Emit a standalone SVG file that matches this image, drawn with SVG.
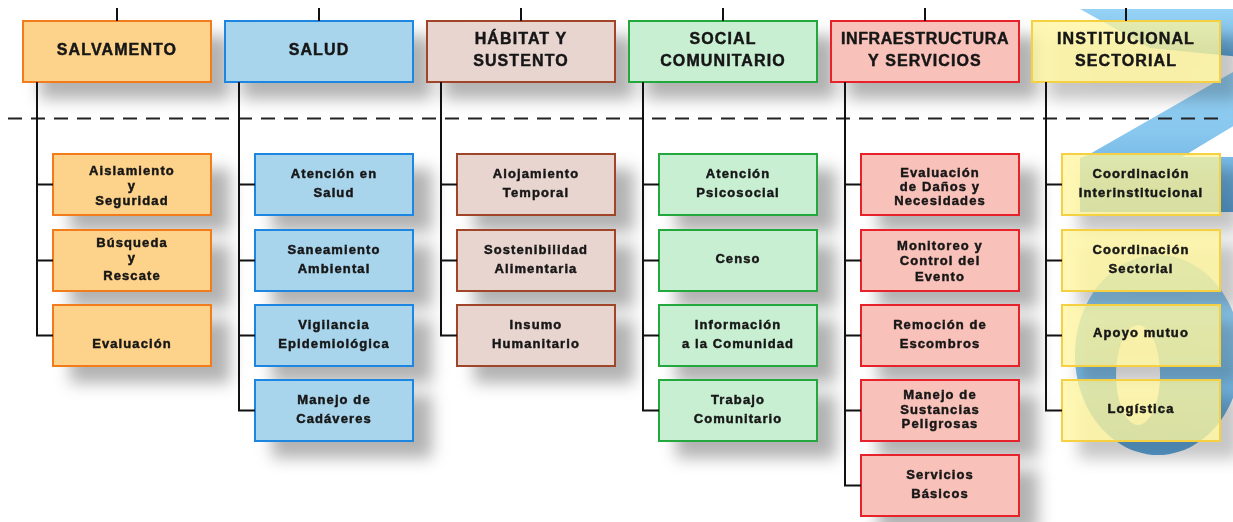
<svg xmlns="http://www.w3.org/2000/svg" width="1233" height="522" viewBox="0 0 1233 522">
<style>
text{font-family:"Liberation Sans",Arial,Helvetica,sans-serif;font-weight:bold;fill:#151515;stroke:#151515;stroke-width:0.45;text-anchor:middle}
.h{font-size:16px;letter-spacing:1.1px}
.c{font-size:13px;letter-spacing:1.1px}
.box{stroke-width:2}
.salv{fill:#FDD28A;stroke:#F27B1F}
.salu{fill:#A8D4EC;stroke:#1F86E0}
.habi{fill:#E9D5D0;stroke:#A0442A}
.soci{fill:#C9EFD3;stroke:#22A83C}
.infr{fill:#F8C1B9;stroke:#E8232B}
.inst{fill:#FFF59A;fill-opacity:0.74;stroke:#F5D040}
.ln{stroke:#111;stroke-width:2;fill:none}
.dash{stroke:#222;stroke-width:2;stroke-dasharray:14 9;fill:none}
</style>
<defs>
<filter id="sh" x="-20%" y="-40%" width="170%" height="220%">
<feDropShadow dx="18" dy="16" stdDeviation="8" flood-color="#000" flood-opacity="0.3"/>
</filter>
<linearGradient id="bg" x1="0" y1="0" x2="0" y2="1">
<stop offset="0" stop-color="#96D2F6"/>
<stop offset="0.45" stop-color="#88C7EE"/>
<stop offset="1" stop-color="#5CA5DB"/>
</linearGradient>
</defs>
<rect width="1233" height="522" fill="#fff"/>
<g id="background-logo" fill="url(#bg)">
<path d="M1080,9 L1240,9 L1240,57 L1150,48 Z"/>
<path d="M1240,68 L1240,122 L1182,157 L1240,157 L1240,212 L1080,212 L1080,158 L1088,155 Z"/>
<path fill-rule="evenodd" d="M1158,255 A83,100 0 1 1 1157.9,255 Z M1138,325 A22,50 0 1 0 1138.1,325 Z"/>
</g>
<g id="n-salvamento" filter="url(#sh)">
<rect class="box salv" x="23" y="21" width="188" height="61"/>
<text class="h" x="117" y="54.5">SALVAMENTO</text>
</g>
<g id="n-salud" filter="url(#sh)">
<rect class="box salu" x="225" y="21" width="188" height="61"/>
<text class="h" x="319" y="54.5">SALUD</text>
</g>
<g id="n-habitat" filter="url(#sh)">
<rect class="box habi" x="427" y="21" width="188" height="61"/>
<text class="h" x="521" y="43.5">HÁBITAT Y</text>
<text class="h" x="521" y="65.5">SUSTENTO</text>
</g>
<g id="n-social" filter="url(#sh)">
<rect class="box soci" x="629" y="21" width="188" height="61"/>
<text class="h" x="723" y="43.5">SOCIAL</text>
<text class="h" x="723" y="65.5">COMUNITARIO</text>
</g>
<g id="n-infra" filter="url(#sh)">
<rect class="box infr" x="831" y="21" width="188" height="61"/>
<text class="h" x="925" y="43.5" style="letter-spacing:0.6px">INFRAESTRUCTURA</text>
<text class="h" x="925" y="65.5">Y SERVICIOS</text>
</g>
<g id="n-institucional" filter="url(#sh)">
<rect class="box inst" x="1032" y="21" width="188" height="61"/>
<text class="h" x="1126" y="43.5">INSTITUCIONAL</text>
<text class="h" x="1126" y="65.5">SECTORIAL</text>
</g>

<g id="n-aislamiento" filter="url(#sh)">
<rect class="box salv" x="53" y="154" width="158" height="61"/>
<text class="c" x="132" y="175">Aislamiento</text>
<text class="c" x="132" y="190">y</text>
<text class="c" x="132" y="204.5">Seguridad</text>
</g>
<g id="n-busqueda" filter="url(#sh)">
<rect class="box salv" x="53" y="230" width="158" height="61"/>
<text class="c" x="132" y="246.5">Búsqueda</text>
<text class="c" x="132" y="262">y</text>
<text class="c" x="132" y="279.5">Rescate</text>
</g>
<g id="n-evaluacion" filter="url(#sh)">
<rect class="box salv" x="53" y="305" width="158" height="61"/>
<text class="c" x="132" y="347.5">Evaluación</text>
</g>

<g id="n-atencion-salud" filter="url(#sh)">
<rect class="box salu" x="255" y="154" width="158" height="61"/>
<text class="c" x="334" y="178">Atención en</text>
<text class="c" x="334" y="196.5">Salud</text>
</g>
<g id="n-saneamiento" filter="url(#sh)">
<rect class="box salu" x="255" y="230" width="158" height="61"/>
<text class="c" x="334" y="254">Saneamiento</text>
<text class="c" x="334" y="272.5">Ambiental</text>
</g>
<g id="n-vigilancia" filter="url(#sh)">
<rect class="box salu" x="255" y="305" width="158" height="61"/>
<text class="c" x="334" y="329">Vigilancia</text>
<text class="c" x="334" y="347.5">Epidemiológica</text>
</g>
<g id="n-cadaveres" filter="url(#sh)">
<rect class="box salu" x="255" y="380" width="158" height="61"/>
<text class="c" x="334" y="404">Manejo de</text>
<text class="c" x="334" y="422.5">Cadáveres</text>
</g>

<g id="n-alojamiento" filter="url(#sh)">
<rect class="box habi" x="457" y="154" width="158" height="61"/>
<text class="c" x="536" y="178">Alojamiento</text>
<text class="c" x="536" y="196.5">Temporal</text>
</g>
<g id="n-sostenibilidad" filter="url(#sh)">
<rect class="box habi" x="457" y="230" width="158" height="61"/>
<text class="c" x="536" y="254">Sostenibilidad</text>
<text class="c" x="536" y="272.5">Alimentaria</text>
</g>
<g id="n-insumo" filter="url(#sh)">
<rect class="box habi" x="457" y="305" width="158" height="61"/>
<text class="c" x="536" y="329">Insumo</text>
<text class="c" x="536" y="347.5">Humanitario</text>
</g>

<g id="n-psicosocial" filter="url(#sh)">
<rect class="box soci" x="659" y="154" width="158" height="61"/>
<text class="c" x="738" y="178">Atención</text>
<text class="c" x="738" y="196.5">Psicosocial</text>
</g>
<g id="n-censo" filter="url(#sh)">
<rect class="box soci" x="659" y="230" width="158" height="61"/>
<text class="c" x="738" y="262.5">Censo</text>
</g>
<g id="n-informacion" filter="url(#sh)">
<rect class="box soci" x="659" y="305" width="158" height="61"/>
<text class="c" x="738" y="329">Información</text>
<text class="c" x="738" y="347.5">a la Comunidad</text>
</g>
<g id="n-trabajo" filter="url(#sh)">
<rect class="box soci" x="659" y="380" width="158" height="61"/>
<text class="c" x="738" y="404">Trabajo</text>
<text class="c" x="738" y="422.5">Comunitario</text>
</g>

<g id="n-edan" filter="url(#sh)">
<rect class="box infr" x="861" y="154" width="158" height="61"/>
<text class="c" x="940" y="176.5">Evaluación</text>
<text class="c" x="940" y="190.5">de Daños y</text>
<text class="c" x="940" y="205">Necesidades</text>
</g>
<g id="n-monitoreo" filter="url(#sh)">
<rect class="box infr" x="861" y="230" width="158" height="61"/>
<text class="c" x="940" y="249.5">Monitoreo y</text>
<text class="c" x="940" y="265">Control del</text>
<text class="c" x="940" y="281">Evento</text>
</g>
<g id="n-remocion" filter="url(#sh)">
<rect class="box infr" x="861" y="305" width="158" height="61"/>
<text class="c" x="940" y="329">Remoción de</text>
<text class="c" x="940" y="347.5">Escombros</text>
</g>
<g id="n-sustancias" filter="url(#sh)">
<rect class="box infr" x="861" y="380" width="158" height="61"/>
<text class="c" x="940" y="398.5">Manejo de</text>
<text class="c" x="940" y="413.5">Sustancias</text>
<text class="c" x="940" y="427.5">Peligrosas</text>
</g>
<g id="n-servicios" filter="url(#sh)">
<rect class="box infr" x="861" y="455" width="158" height="61"/>
<text class="c" x="940" y="479">Servicios</text>
<text class="c" x="940" y="497.5">Básicos</text>
</g>

<g id="n-coord-inter" filter="url(#sh)">
<rect class="box inst" x="1062" y="154" width="158" height="61"/>
<text class="c" x="1141" y="178">Coordinación</text>
<text class="c" x="1141" y="196.5">Interinstitucional</text>
</g>
<g id="n-coord-sect" filter="url(#sh)">
<rect class="box inst" x="1062" y="230" width="158" height="61"/>
<text class="c" x="1141" y="254">Coordinación</text>
<text class="c" x="1141" y="272.5">Sectorial</text>
</g>
<g id="n-apoyo" filter="url(#sh)">
<rect class="box inst" x="1062" y="305" width="158" height="61"/>
<text class="c" x="1141" y="336.5">Apoyo mutuo</text>
</g>
<g id="n-logistica" filter="url(#sh)">
<rect class="box inst" x="1062" y="380" width="158" height="61"/>
<text class="c" x="1141" y="413">Logística</text>
</g>

<g id="connectors">
<line class="dash" x1="8" y1="118.5" x2="1221" y2="118.5"/>
<path class="ln" d="M117,8V21 M319,8V21 M521,8V21 M723,8V21 M925,8V21 M1126,8V21"/>
<path class="ln" d="M37,82V335.5H53 M37,184.5H53 M37,260.5H53"/>
<path class="ln" d="M239,82V410.5H255 M239,184.5H255 M239,260.5H255 M239,335.5H255"/>
<path class="ln" d="M441,82V335.5H457 M441,184.5H457 M441,260.5H457"/>
<path class="ln" d="M643,82V410.5H659 M643,184.5H659 M643,260.5H659 M643,335.5H659"/>
<path class="ln" d="M845,82V485.5H861 M845,184.5H861 M845,260.5H861 M845,335.5H861 M845,410.5H861"/>
<path class="ln" d="M1046,82V410.5H1062 M1046,184.5H1062 M1046,260.5H1062 M1046,335.5H1062"/>
</g>
</svg>
